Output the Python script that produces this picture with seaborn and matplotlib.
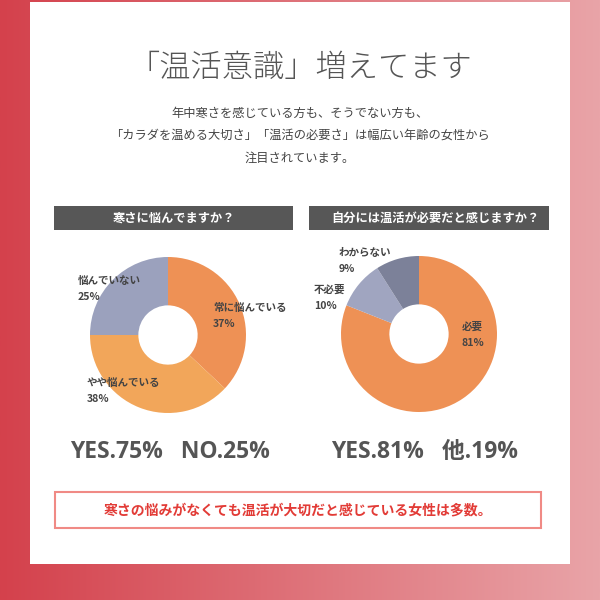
import numpy as np
import matplotlib
matplotlib.use("Agg")
import matplotlib.pyplot as plt
import seaborn as sns
from matplotlib.patches import Rectangle

sns.set_theme(style="white")
plt.rcParams['font.family'] = ['Noto Sans CJK JP', 'DejaVu Sans']

# ---- data ----
title = "「温活意識」増えてます"
intro_lines = ["年中寒さを感じている方も、そうでない方も、",
               "「カラダを温める大切さ」「温活の必要さ」は幅広い年齢の女性から",
               "注目されています。"]
q1_title = "寒さに悩んでますか？"
q1_labels = ["常に悩んでいる", "やや悩んでいる", "悩んでいない"]
q1_values = [37, 38, 25]
q1_colors = ["#EE9155", "#F2A65A", "#9BA1BD"]
q2_title = "自分には温活が必要だと感じますか？"
q2_labels = ["必要", "不必要", "わからない"]
q2_values = [81, 10, 9]
q2_colors = ["#EE9155", "#A0A5C0", "#7C8199"]
summary1 = "YES.75%   NO.25%"
summary2 = "YES.81%   他.19%"
conclusion = "寒さの悩みがなくても温活が大切だと感じている女性は多数。"

W = H = 600
fig = plt.figure(figsize=(6, 6), dpi=100)
bg = fig.add_axes([0, 0, 1, 1])
bg.set_xlim(0, W)
bg.set_ylim(H, 0)
bg.axis("off")

# gradient background
grad = np.linspace(0, 1, 256)[None, :]
cmap = matplotlib.colors.LinearSegmentedColormap.from_list("g", ["#D4414C", "#E9A4A8"])
bg.imshow(grad, extent=[0, W, H, 0], aspect="auto", cmap=cmap, zorder=0)
bg.add_patch(Rectangle((30, 2), 540, 562, facecolor="white", edgecolor="none", zorder=1))

# title & intro
bg.text(300, 68, title, ha="center", va="center", fontsize=22.5, color="#555555",
        fontweight="light", zorder=2)
for i, line in enumerate(intro_lines):
    bg.text(300, 113 + i * 22.5, line, ha="center", va="center", fontsize=8.8,
            color="#444444", zorder=2)

# header bars
for (x0, x1, txt) in [(54, 293, q1_title), (309, 549, q2_title)]:
    bg.add_patch(Rectangle((x0, 206), x1 - x0, 24, facecolor="#575757", edgecolor="none", zorder=2))
    bg.text((x0 + x1) / 2 + (6 if txt == q2_title else 0), 218, txt, ha="center", va="center",
            fontsize=8.8, color="white", fontweight="bold", zorder=3)

# donuts
def donut(cx, cy, r, values, colors):
    ax = fig.add_axes([(cx - r) / W, 1 - (cy + r) / H, 2 * r / W, 2 * r / H])
    ax.pie(values, colors=colors, startangle=90, counterclock=False,
           radius=1.0, wedgeprops=dict(width=0.62, edgecolor="none"))
    ax.set_xlim(-1, 1)
    ax.set_ylim(-1, 1)
    ax.set_aspect("equal")
    ax.axis("off")
    return ax

donut(168, 335, 78, q1_values, q1_colors)
donut(419, 334, 78, q2_values, q2_colors)

# overlay for labels (above the pies)
ov = fig.add_axes([0, 0, 1, 1])
ov.set_xlim(0, W)
ov.set_ylim(H, 0)
ov.axis("off")
ov.patch.set_alpha(0)

lab_pos1 = [(213, 308), (87, 383), (78, 281)]
for (x, y), lab, v in zip(lab_pos1, q1_labels, q1_values):
    ov.text(x, y, lab, ha="left", va="center", fontsize=7.6, fontweight="bold", color="#444444")
    ov.text(x, y + 16, f"{v}%", ha="left", va="center", fontsize=7.6, fontweight="bold", color="#444444")
lab_pos2 = [(462, 327), (314, 290), (339, 253)]
for (x, y), lab, v in zip(lab_pos2, q2_labels, q2_values):
    ov.text(x, y, lab, ha="left", va="center", fontsize=7.6, fontweight="bold", color="#444444")
    ov.text(x, y + 16, f"{v}%", ha="left", va="center", fontsize=7.6, fontweight="bold", color="#444444")

# summaries
ov.text(170, 452, summary1, ha="center", va="center", fontsize=16.5, fontweight="bold",
        color="#555555", family=["Open Sans", "Noto Sans CJK JP"])
ov.text(425, 452, summary2, ha="center", va="center", fontsize=16.5, fontweight="bold",
        color="#555555", family=["Open Sans", "Noto Sans CJK JP"])

# conclusion box
ov.add_patch(Rectangle((55, 492), 486, 36, facecolor="white", edgecolor="#F08A85", lw=1.5))
ov.text(298, 510, conclusion, ha="center", va="center", fontsize=10, fontweight="bold",
        color="#E23B36")

fig.savefig("out.png", dpi=100)
